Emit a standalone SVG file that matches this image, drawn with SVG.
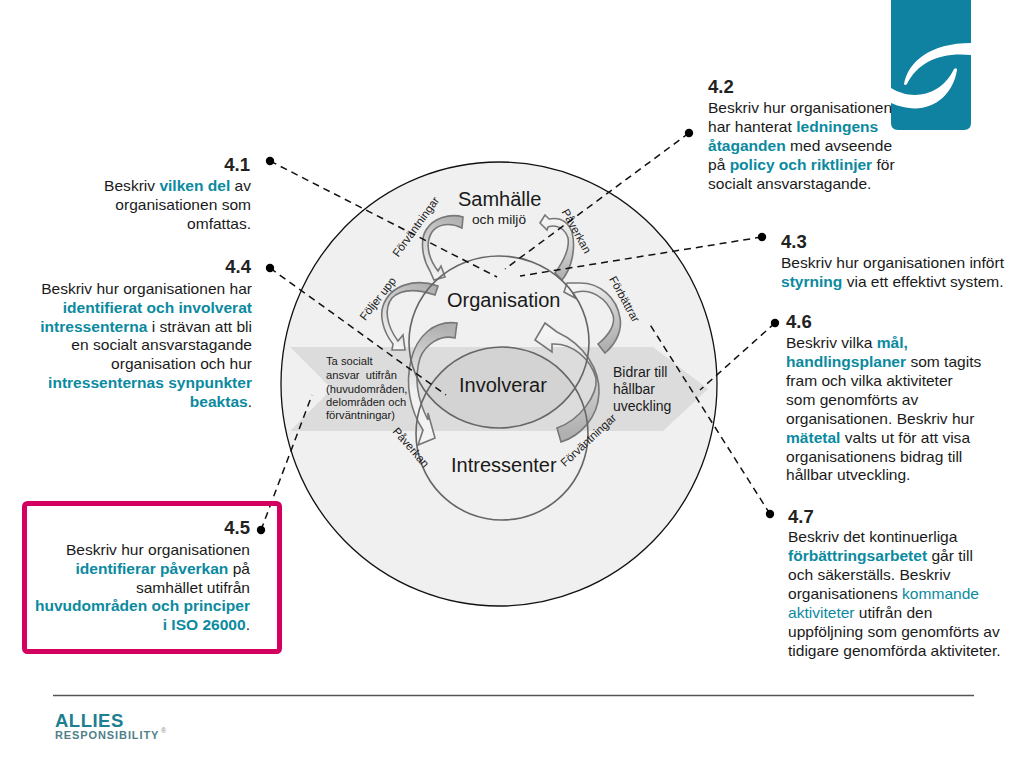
<svg xmlns="http://www.w3.org/2000/svg" width="1024" height="768" viewBox="0 0 1024 768">
<style>
text{font-family:"Liberation Sans",Arial,sans-serif;fill:#1a1a1a}
.b{font-size:15.55px}
.r{text-anchor:end}
.h{font-size:18.5px;font-weight:bold;fill:#222}
.t2{fill:#0b8a9f}
.k{font-weight:bold;fill:#0b8a9f}
.l{font-size:11.5px}
.n{font-size:20px}
.s{font-size:14px}
.m{font-size:11.2px}
.dash{fill:none;stroke:#111;stroke-width:1.5;stroke-dasharray:7 5}
.dot{fill:#000}
.ring{fill:none;stroke:#666;stroke-width:1.6}
.arr{stroke:#777;stroke-width:1.6;stroke-linejoin:miter}
</style>
<defs>
<linearGradient id="g1" gradientUnits="userSpaceOnUse" x1="463" y1="220" x2="440" y2="280"><stop offset="0" stop-color="#b0b0b0"/><stop offset="1" stop-color="#f4f4f4"/></linearGradient>
<linearGradient id="g2" gradientUnits="userSpaceOnUse" x1="437" y1="290" x2="400" y2="350"><stop offset="0" stop-color="#b0b0b0"/><stop offset="1" stop-color="#f4f4f4"/></linearGradient>
<linearGradient id="g3" gradientUnits="userSpaceOnUse" x1="456" y1="330" x2="428" y2="440"><stop offset="0" stop-color="#b0b0b0"/><stop offset="0.6" stop-color="#f0f0f0"/><stop offset="1" stop-color="#f4f4f4"/></linearGradient>
<linearGradient id="g4" gradientUnits="userSpaceOnUse" x1="558" y1="278" x2="550" y2="222"><stop offset="0" stop-color="#b0b0b0"/><stop offset="1" stop-color="#f4f4f4"/></linearGradient>
<linearGradient id="g5" gradientUnits="userSpaceOnUse" x1="601" y1="350" x2="570" y2="290"><stop offset="0" stop-color="#b0b0b0"/><stop offset="1" stop-color="#f4f4f4"/></linearGradient>
<linearGradient id="g6" gradientUnits="userSpaceOnUse" x1="559" y1="435" x2="545" y2="335"><stop offset="0" stop-color="#b0b0b0"/><stop offset="1" stop-color="#f4f4f4"/></linearGradient>
<clipPath id="lens"><ellipse cx="502" cy="433.500" rx="86" ry="86.500"/></clipPath>
</defs>

<g id="logo">
<path d="M891,0H971V123Q971,130 964,130H898Q891,130 891,123Z" fill="#0f81a1"/>
<path d="M904,84C908,62 930,43 971,43V55C940,52 918,62 907,84Q905,86 904,84Z" fill="#fff"/>
<path d="M891,88C910,100 940,98 954,69Q957,67 957,70C952,100 925,118 891,103Z" fill="#fff"/>
</g>

<g id="diagram">
<ellipse cx="499" cy="384" rx="218" ry="222" fill="#f0f0f0" stroke="#111" stroke-width="1.3"/>
<path d="M290,347H653L708,389L663,431H290L332,389Z" fill="#dcdcdc"/>
<ellipse cx="499" cy="342" rx="90" ry="86" fill="#d3d3d3" clip-path="url(#lens)"/>
</g>

<g id="arrows">
<path class="arr" fill="url(#g1)" d="M463,217L462,228C450,222 438,224 432,232C425,243 428,258 438,271L441,266L445,277L434,280L430,271C422,258 420,240 426,230C433,218 450,213 463,217Z"/>
<path class="arr" fill="url(#g2)" d="M438,286L435,295C420,290 402,288 392,298C384,308 386,325 398,341L403,335L405,350L392,350L393,344C382,330 380,315 383,306C390,285 415,278 438,286Z"/>
<path class="arr" fill="url(#g3)" d="M457,323L455,338C440,334 425,345 420,358C415,375 415,395 428,420L428,413L435,438L418,445L423,430C410,410 405,385 411,360C417,335 435,320 457,323Z"/>
<path class="arr" fill="url(#g4)" d="M555,273L562,280C572,268 576,248 572,232C568,222 560,217 549,219L545,215L540,223L547,230L548,227C556,224 565,228 568,238C570,250 563,262 555,273Z"/>
<path class="arr" fill="url(#g5)" d="M598,344L605,353C618,342 622,328 620,318C617,298 600,282 578,283L567,283L564,292L575,298L573,293C590,287 607,298 613,315C616,325 608,336 598,344Z"/>
<path class="arr" fill="url(#g6)" d="M557,428L561,442C580,436 598,418 599,393C600,370 585,345 557,332L545,323L535,340L552,352L552,344C572,343 590,358 596,378C598,395 580,420 557,428Z"/>
</g>

<g id="rings">
<ellipse class="ring" cx="499" cy="342" rx="90" ry="86"/>
<ellipse class="ring" cx="502" cy="433.500" rx="86" ry="86.500"/>
</g>

<g id="circle-labels">
<text x="458" y="206" class="n">Samhälle</text>
<text x="472" y="224" style="font-size:13.700px">och miljö</text>
<text x="447" y="307" class="n">Organisation</text>
<text x="459" y="392" class="n">Involverar</text>
<text x="451" y="472" class="n">Intressenter</text>
<text x="326" y="365" class="m">Ta socialt</text>
<text x="326" y="379" class="m">ansvar&#160; utifrån</text>
<text x="326" y="393" class="m">(huvudområden,</text>
<text x="326" y="406" class="m">delområden och</text>
<text x="326" y="419" class="m">förväntningar)</text>
<text x="613" y="377" class="s">Bidrar till</text>
<text x="613" y="394" class="s">hållbar</text>
<text x="613" y="411" class="s">uveckling</text>
<text class="l" text-anchor="middle" transform="translate(419,229) rotate(-54)">Förväntningar</text>
<text class="l" text-anchor="middle" transform="translate(381,301) rotate(-52)">Följer upp</text>
<text class="l" text-anchor="middle" transform="translate(573,233) rotate(61)">Påverkan</text>
<text class="l" text-anchor="middle" transform="translate(621,301) rotate(61)">Förbättrar</text>
<text class="l" text-anchor="middle" transform="translate(408,450) rotate(49)">Påverkan</text>
<text class="l" text-anchor="middle" transform="translate(591,443) rotate(-43)">Förväntningar</text>
</g>

<g id="connectors">
<path class="dash" d="M270,161L497,277"/>
<path class="dash" d="M270,268L446,395"/>
<path class="dash" d="M261,530L312,395"/>
<path class="dash" d="M689,133L505,269"/>
<path class="dash" d="M762,237L520,276"/>
<path class="dash" d="M775,323L700,390"/>
<path class="dash" d="M770,514L649,323"/>
<circle class="dot" cx="270" cy="161" r="4.200"/>
<circle class="dot" cx="270" cy="268" r="4.200"/>
<circle class="dot" cx="261" cy="530" r="4.200"/>
<circle class="dot" cx="689" cy="133" r="4.200"/>
<circle class="dot" cx="762" cy="237" r="4.200"/>
<circle class="dot" cx="775" cy="323" r="4.200"/>
<circle class="dot" cx="770" cy="514" r="4.200"/>
</g>

<g id="n41">
<text x="250" y="171" class="h r">4.1</text>
<text x="251" y="191" class="b r">Beskriv <tspan class="k">vilken del</tspan> av</text>
<text x="251" y="210" class="b r">organisationen som</text>
<text x="251" y="229" class="b r">omfattas.</text>
</g>
<g id="n44">
<text x="251" y="273" class="h r">4.4</text>
<text x="252" y="294" class="b r">Beskriv hur organisationen har</text>
<text x="252" y="313" class="b r"><tspan class="k">identifierat och involverat</tspan></text>
<text x="252" y="332" class="b r"><tspan class="k">intressenterna</tspan> i strävan att bli</text>
<text x="252" y="350" class="b r">en socialt ansvarstagande</text>
<text x="252" y="369" class="b r">organisation och hur</text>
<text x="252" y="388" class="b r"><tspan class="k">intressenternas synpunkter</tspan></text>
<text x="252" y="407" class="b r"><tspan class="k">beaktas</tspan>.</text>
</g>
<g id="n45">
<rect x="24.500" y="503.500" width="255" height="148" rx="3" fill="none" stroke="#d4005f" stroke-width="5"/>
<text x="250" y="534" class="h r">4.5</text>
<text x="250" y="555" class="b r">Beskriv hur organisationen</text>
<text x="250" y="574" class="b r"><tspan class="k">identifierar påverkan</tspan> på</text>
<text x="250" y="593" class="b r">samhället utifrån</text>
<text x="250" y="611" class="b r"><tspan class="k">huvudområden och principer</tspan></text>
<text x="250" y="630" class="b r"><tspan class="k">i ISO 26000</tspan>.</text>
</g>
<g id="n42">
<text x="708" y="93" class="h">4.2</text>
<text x="708" y="113" class="b">Beskriv hur organisationen</text>
<text x="708" y="132" class="b">har hanterat <tspan class="k">ledningens</tspan></text>
<text x="708" y="151" class="b"><tspan class="k">åtaganden</tspan> med avseende</text>
<text x="708" y="170" class="b">på <tspan class="k">policy och riktlinjer</tspan> för</text>
<text x="708" y="189" class="b">socialt ansvarstagande.</text>
</g>
<g id="n43">
<text x="781" y="248" class="h">4.3</text>
<text x="781" y="268" class="b">Beskriv hur organisationen infört</text>
<text x="781" y="287" class="b"><tspan class="k">styrning</tspan> via ett effektivt system.</text>
</g>
<g id="n46">
<text x="786" y="328" class="h">4.6</text>
<text x="786" y="348" class="b">Beskriv vilka <tspan class="k">mål,</tspan></text>
<text x="786" y="367" class="b"><tspan class="k">handlingsplaner</tspan> som tagits</text>
<text x="786" y="386" class="b">fram och vilka aktiviteter</text>
<text x="786" y="405" class="b">som genomförts av</text>
<text x="786" y="424" class="b">organisationen. Beskriv hur</text>
<text x="786" y="443" class="b"><tspan class="k">mätetal</tspan> valts ut för att visa</text>
<text x="786" y="462" class="b">organisationens bidrag till</text>
<text x="786" y="480" class="b">hållbar utveckling.</text>
</g>
<g id="n47">
<text x="788" y="523" class="h">4.7</text>
<text x="788" y="542" class="b">Beskriv det kontinuerliga</text>
<text x="788" y="561" class="b"><tspan class="k">förbättringsarbetet</tspan> går till</text>
<text x="788" y="580" class="b">och säkerställs. Beskriv</text>
<text x="788" y="599" class="b">organisationens <tspan class="t2">kommande</tspan></text>
<text x="788" y="618" class="b"><tspan class="t2">aktiviteter</tspan> utifrån den</text>
<text x="788" y="637" class="b">uppföljning som genomförts av</text>
<text x="788" y="656" class="b">tidigare genomförda aktiviteter.</text>
</g>

<g id="footer">
<path d="M53,695.500H974" stroke="#555" stroke-width="1.500"/>
<text x="55" y="727" style="font-size:18.500px;font-weight:bold;fill:#1d7f92;letter-spacing:0.5px">ALLIES</text>
<text x="55" y="739" style="font-size:11px;font-weight:bold;fill:#4f8088;letter-spacing:0.9px">RESPONSIBILITY</text>
<text x="161" y="733" style="font-size:7px;fill:#888">®</text>
</g>
</svg>
